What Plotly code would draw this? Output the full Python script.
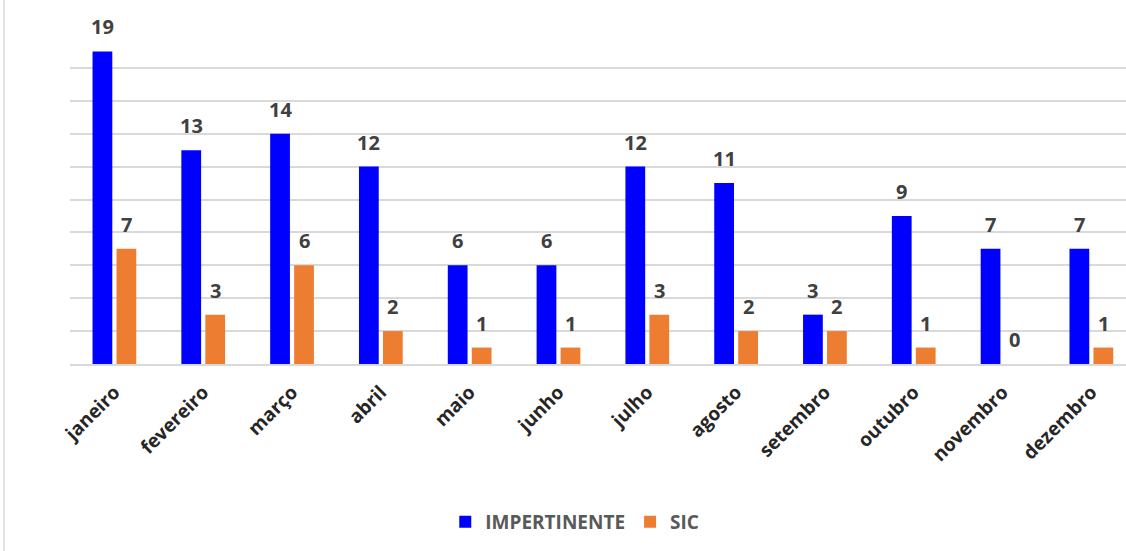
import plotly.graph_objects as go

months = ["janeiro", "fevereiro", "março", "abril", "maio", "junho", "julho",
          "agosto", "setembro", "outubro", "novembro", "dezembro"]
impertinente = [19, 13, 14, 12, 6, 6, 12, 11, 3, 9, 7, 7]
sic = [7, 3, 6, 2, 1, 1, 3, 2, 2, 1, 0, 1]

W, H = 1126, 551
ML, MR, MT, MB = 70, 0, 35, 187
FONT = "Open Sans"

fig = go.Figure()
fig.add_trace(go.Bar(x=months, y=impertinente, name="IMPERTINENTE",
                     marker=dict(color="#0000FF", line=dict(width=0))))
fig.add_trace(go.Bar(x=months, y=sic, name="SIC",
                     marker=dict(color="#ED7D31", line=dict(width=0))))

annotations = []
for series, shift in ((impertinente, -12), (sic, 12)):
    for m, v in zip(months, series):
        annotations.append(dict(x=m, y=v, text=str(v), showarrow=False,
                                xref="x", yref="y", yanchor="bottom",
                                xshift=shift, yshift=9,
                                font=dict(family=FONT, size=20, color="#404040",
                                          weight="bold")))

fig.update_layout(
    width=W, height=H,
    margin=dict(l=ML, r=MR, t=MT, b=MB, pad=0),
    paper_bgcolor="white", plot_bgcolor="white",
    barmode="group", bargap=0.46, bargroupgap=0.176,
    font=dict(family=FONT),
    showlegend=True,
    legend=dict(orientation="h", x=0.478, xanchor="center", y=-0.48, yanchor="middle",
                font=dict(family=FONT, size=19, color="#595959", weight="bold"),
                itemwidth=30, traceorder="normal"),
    annotations=annotations,
    shapes=[dict(type="line", xref="paper", yref="paper",
                 x0=(4 - ML) / (W - ML - MR), x1=(4 - ML) / (W - ML - MR),
                 y0=-MB / (H - MT - MB), y1=(H - MB) / (H - MT - MB),
                 line=dict(color="#D9D9D9", width=1.5))],
)
fig.update_xaxes(type="category", range=[-0.5, 11.39], showgrid=False,
                 showline=True, linecolor="#D9D9D9", linewidth=1.5,
                 ticks="", tickangle=-45, ticklabelstandoff=8,
                 tickfont=dict(family=FONT, size=19, color="#262626", weight="bold"))
fig.update_yaxes(range=[0, 20], dtick=2, showgrid=True, gridcolor="#D9D9D9",
                 gridwidth=1.5, showticklabels=False, zeroline=False, ticks="")

fig.write_html("out.html")
